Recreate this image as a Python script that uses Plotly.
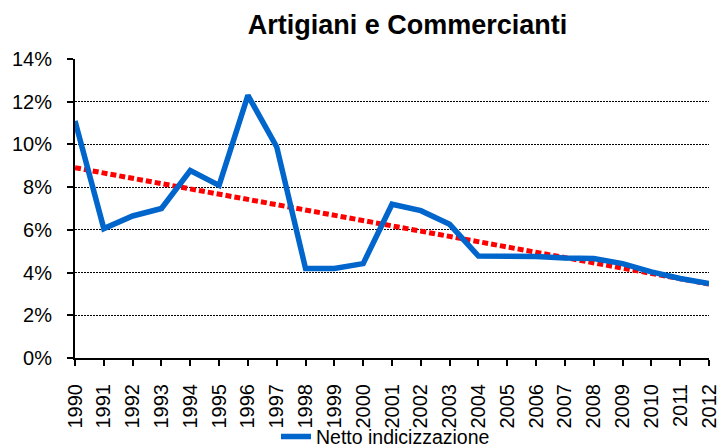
import numpy as np
import plotly.graph_objects as go

years = list(range(1990, 2013))
netto = [11.1, 6.06, 6.65, 7.0, 8.78, 8.08, 12.3, 9.88, 4.19, 4.19, 4.42,
         7.2, 6.9, 6.26, 4.77, 4.77, 4.75, 4.68, 4.66, 4.42, 4.03, 3.72, 3.49]
y_ticks = [0, 2, 4, 6, 8, 10, 12, 14]
y_labels = [f"{v}%" for v in y_ticks]

coef = np.polyfit(years, netto, 1)
trend = list(np.polyval(coef, years))

fig = go.Figure()
fig.add_trace(go.Scatter(x=years, y=trend, mode="lines", showlegend=False,
                         line=dict(color="#FF0000", width=5, dash="6px,3px")))
fig.add_trace(go.Scatter(x=years, y=netto, mode="lines", name="Netto indicizzazione",
                         line=dict(color="#0066CC", width=5.5)))

fig.update_layout(
    width=720, height=447,
    paper_bgcolor="white", plot_bgcolor="white",
    font=dict(family="Liberation Sans, Arial, sans-serif", color="black", size=20),
    margin=dict(l=75, r=11, t=59, b=89, autoexpand=False),
    title=dict(text="<b>Artigiani e Commercianti</b>", x=0.566, xanchor="center",
               y=0.945, yanchor="middle", font=dict(size=27)),
    showlegend=True,
    legend=dict(orientation="h", x=0.317, xanchor="left", y=-0.264, yanchor="middle",
                font=dict(size=19.5), bgcolor="rgba(0,0,0,0)"),
    xaxis=dict(range=[1990, 2012], tickmode="array", tickvals=years,
               ticktext=[str(y) for y in years], tickangle=-90,
               showline=True, linecolor="black", linewidth=2,
               ticks="outside", ticklen=6, tickcolor="black", tickwidth=1.5,
               ticklabelstandoff=10, automargin=False,
               showgrid=False, zeroline=False, tickfont=dict(size=20)),
    yaxis=dict(range=[0, 14], tickmode="array", tickvals=y_ticks, ticktext=y_labels,
               showline=True, linecolor="black", linewidth=2,
               ticks="outside", ticklen=6, tickcolor="black", tickwidth=1.5,
               ticklabelstandoff=11, automargin=False,
               showgrid=True, gridcolor="black", griddash="2px,1px", gridwidth=1,
               zeroline=False, tickfont=dict(size=20)),
)

fig.write_html("out.html", config={"displayModeBar": False},
               post_script="document.body.style.margin='0';document.body.style.padding='0';")
